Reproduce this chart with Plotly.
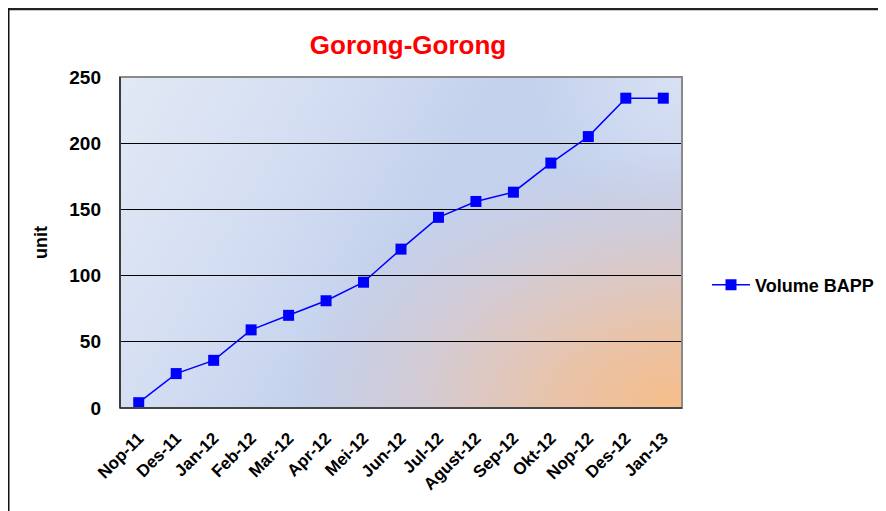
import base64
import plotly.graph_objects as go

title_text = "Gorong-Gorong"
series_name = "Volume BAPP"
y_title = "unit"
months = ["Nop-11", "Des-11", "Jan-12", "Feb-12", "Mar-12", "Apr-12", "Mei-12", "Jun-12",
          "Jul-12", "Agust-12", "Sep-12", "Okt-12", "Nop-12", "Des-12", "Jan-13"]
volume = [4, 26, 36, 59, 70, 81, 95, 120, 144, 156, 163, 185, 205, 234, 234]
y_ticks = [0, 50, 100, 150, 200, 250]

FONT = "Liberation Sans, Arial, sans-serif"

# plot area in figure pixels (page adds an 8px body margin)
L, T, R, B = 112, 69, 674, 400
W, H = 886, 511
PW, PH = R - L, B - T


def px(x):
    return (x - L) / PW


def py(y):
    return (B - y) / PH


svg = """<svg xmlns='http://www.w3.org/2000/svg' width='562' height='331' viewBox='0 0 562 331' preserveAspectRatio='none'>
<defs>
<linearGradient id='a' gradientUnits='userSpaceOnUse' x1='0' y1='0' x2='562' y2='331'>
<stop offset='0' stop-color='#e2e9f5'/>
<stop offset='0.28' stop-color='#d4def2'/>
<stop offset='0.5' stop-color='#c4d2ed'/>
<stop offset='0.75' stop-color='#c3d2ee'/>
<stop offset='1' stop-color='#c2d0ec'/>
</linearGradient>
<radialGradient id='t' gradientUnits='userSpaceOnUse' cx='562' cy='0' r='150'>
<stop offset='0' stop-color='#dde4f4' stop-opacity='0.85'/>
<stop offset='1' stop-color='#dde4f4' stop-opacity='0'/>
</radialGradient>
<radialGradient id='o' gradientUnits='userSpaceOnUse' cx='0' cy='0' r='1'
 gradientTransform='translate(562,331) scale(400,255)'>
<stop offset='0' stop-color='#f7bd88' stop-opacity='1'/>
<stop offset='0.3' stop-color='#ecc2a3' stop-opacity='0.95'/>
<stop offset='0.55' stop-color='#dfc7c0' stop-opacity='0.85'/>
<stop offset='0.8' stop-color='#d3c9d3' stop-opacity='0.5'/>
<stop offset='1' stop-color='#cccadc' stop-opacity='0'/>
</radialGradient>
</defs>
<rect width='562' height='331' fill='url(#a)'/>
<rect width='562' height='331' fill='url(#t)'/>
<rect width='562' height='331' fill='url(#o)'/>
</svg>"""
bg_uri = "data:image/svg+xml;base64," + base64.b64encode(svg.encode()).decode()

fig = go.Figure()
fig.add_trace(go.Scatter(
    x=months, y=volume, mode="lines+markers", name="<b>" + series_name + "</b>",
    line=dict(color="#0000ff", width=1.5),
    marker=dict(symbol="square", size=11, color="#0000ff"),
))

fig.update_layout(
    width=W, height=H,
    margin=dict(l=L, r=W - R, t=T, b=H - B),
    paper_bgcolor="white", plot_bgcolor="rgba(0,0,0,0)",
    font=dict(family=FONT, color="black"),
    title=dict(text="<b>" + title_text + "</b>", x=400 / W, xanchor="center",
               y=1 - 37 / H, yanchor="middle",
               font=dict(size=26, color="#ff0000", family=FONT)),
    showlegend=True,
    legend=dict(x=px(699), y=py(277), xanchor="left", yanchor="middle",
                font=dict(size=18, family=FONT), bgcolor="rgba(0,0,0,0)",
                itemwidth=38),
    images=[dict(source=bg_uri, xref="paper", yref="paper", x=0, y=1, sizex=1, sizey=1,
                 sizing="stretch", layer="below", xanchor="left", yanchor="top")],
    shapes=[
        dict(type="rect", xref="paper", yref="paper", x0=0, y0=0, x1=1, y1=1,
             line=dict(color="#8a8a8a", width=2), layer="above"),
        dict(type="line", xref="paper", yref="paper", x0=0, y0=0, x1=1, y1=0,
             line=dict(color="#444444", width=2), layer="above"),
        dict(type="line", xref="paper", yref="paper", x0=0, y0=0, x1=0, y1=1,
             line=dict(color="#222222", width=1.5), layer="above"),
        dict(type="line", xref="paper", yref="paper", x0=px(0), y0=py(1),
             x1=px(W), y1=py(1), line=dict(color="#222222", width=2.5)),
        dict(type="line", xref="paper", yref="paper", x0=px(0.75), y0=py(0),
             x1=px(0.75), y1=py(H), line=dict(color="#111111", width=1.5)),
    ],
)

fig.update_xaxes(
    type="category", range=[-0.5, len(months) - 0.5],
    tickangle=-45, tickfont=dict(size=17, family=FONT),
    tickprefix="<b>", ticksuffix="</b>",
    showgrid=False, showline=False, ticks="", zeroline=False,
    ticklabelstandoff=16,
)
fig.update_yaxes(
    range=[0, 250], tickvals=y_ticks,
    ticktext=["<b>%d</b>" % v for v in y_ticks],
    tickfont=dict(size=19, family=FONT),
    showgrid=True, gridcolor="#000000", gridwidth=1,
    showline=False, ticks="", zeroline=False, ticklabelstandoff=18,
    title=dict(text="<b>" + y_title + "</b>", font=dict(size=18, family=FONT), standoff=16),
)

fig.write_html("out.html")
